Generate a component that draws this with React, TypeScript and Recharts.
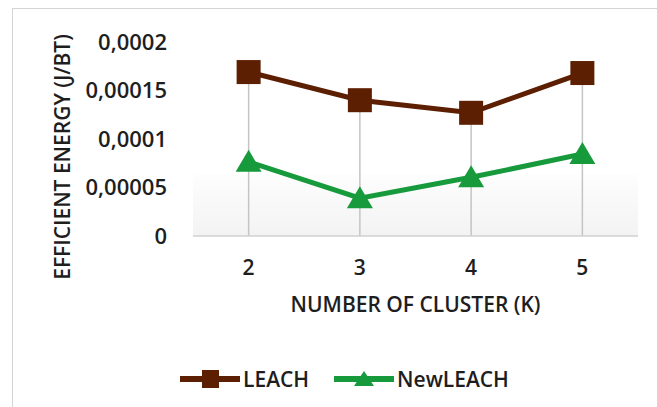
import {
  LineChart,
  Line,
  XAxis,
  YAxis,
  ReferenceLine,
  ReferenceArea,
} from "recharts";

const clusters = [2, 3, 4, 5];
const leach = [0.000169, 0.00014, 0.000127, 0.000168];
const newLeach = [0.0000765, 0.000039, 0.0000605, 0.0000845];
const yTicks = [0, 0.00005, 0.0001, 0.00015, 0.0002];

const BROWN = "#5c1f02";
const GREEN = "#169a3c";
const TEXT = "#1e1e1e";
const FONT = "'Open Sans', sans-serif";

const data = clusters.map((k, i) => ({ k, leach: leach[i], newLeach: newLeach[i] }));

function SquareDot(props: any) {
  const { cx, cy } = props;
  if (cx == null || cy == null) return null;
  return <rect x={cx - 12} y={cy - 12} width={24} height={24} fill={BROWN} />;
}

function TriangleDot(props: any) {
  const { cx, cy } = props;
  if (cx == null || cy == null) return null;
  return (
    <path
      d={`M${cx},${cy - 12} L${cx + 13},${cy + 10} L${cx - 13},${cy + 10} Z`}
      fill={GREEN}
    />
  );
}

const fmt = (v: number) => (v === 0 ? "0" : String(v).replace(".", ","));

function LegendItem({ kind, label }: { kind: "square" | "triangle"; label: string }) {
  const color = kind === "square" ? BROWN : GREEN;
  return (
    <span style={{ display: "flex", alignItems: "center" }}>
      <svg width={62} height={22}>
        <line x1={0} y1={11} x2={60} y2={11} stroke={color} strokeWidth={6} />
        {kind === "square" ? (
          <rect x={22} y={2} width={17} height={18} fill={color} />
        ) : (
          <path d="M30,3 L40,18 L20,18 Z" fill={color} />
        )}
      </svg>
      <span style={{ marginLeft: 1 }}>{label}</span>
    </span>
  );
}

export default function App() {
  return (
    <div
      style={{
        position: "fixed",
        left: 0,
        top: 0,
        width: 657,
        height: 407,
        background: "#fff",
        overflow: "hidden",
        fontFamily: FONT,
      }}
    >
      <div
        style={{
          position: "absolute",
          left: 12,
          top: 8,
          width: 660,
          height: 420,
          border: "1.5px solid #d4d4d4",
        }}
      />
      <LineChart
        width={657}
        height={407}
        data={data}
        margin={{ top: 42, right: 19, bottom: 91, left: 43 }}
        style={{ position: "absolute", left: 0, top: 0 }}
      >
        <defs>
          <linearGradient id="plotShade" x1="0" y1="0" x2="0" y2="1">
            <stop offset="0%" stopColor="#fdfdfd" />
            <stop offset="100%" stopColor="#f3f3f3" />
          </linearGradient>
        </defs>
        <ReferenceArea
          x1={1.5}
          x2={5.5}
          y1={0}
          y2={0.000063}
          fill="url(#plotShade)"
          fillOpacity={1}
          stroke="none"
        />
        {clusters.map((k, i) => (
          <ReferenceLine
            key={k}
            segment={[
              { x: k, y: 0 },
              { x: k, y: Math.max(leach[i], newLeach[i]) },
            ]}
            stroke="#c4c4c4"
            strokeWidth={1.5}
          />
        ))}
        <XAxis
          dataKey="k"
          type="number"
          domain={[1.5, 5.5]}
          ticks={clusters}
          height={80}
          tickLine={false}
          axisLine={{ stroke: "#d0d0d0", strokeWidth: 1.5 }}
          tickMargin={18}
          tick={{ fill: TEXT, fontSize: 21, fontWeight: 600, fontFamily: FONT }}
          label={{
            content: (p: any) => {
              const vb = p.viewBox;
              return (
                <text
                  x={vb.x + vb.width / 2}
                  y={304}
                  textAnchor="middle"
                  dominantBaseline="central"
                  fill={TEXT}
                  fontSize={21}
                  fontWeight={600}
                  fontFamily={FONT}
                >
                  NUMBER OF CLUSTER (K)
                </text>
              );
            },
          }}
        />
        <YAxis
          domain={[0, 0.0002]}
          ticks={yTicks}
          width={150}
          tickLine={false}
          axisLine={false}
          tickMargin={20}
          tickFormatter={fmt}
          tick={{ fill: TEXT, fontSize: 22, fontWeight: 600, fontFamily: FONT }}
          label={{
            content: () => (
              <text
                x={62}
                y={157}
                transform="rotate(-90, 62, 157)"
                textAnchor="middle"
                dominantBaseline="central"
                fill={TEXT}
                fontSize={21}
                fontWeight={600}
                fontFamily={FONT}
              >
                EFFICIENT ENERGY (J/BT)
              </text>
            ),
          }}
        />
        <Line
          dataKey="leach"
          stroke={BROWN}
          strokeWidth={5}
          dot={<SquareDot />}
          activeDot={false}
          isAnimationActive={false}
        />
        <Line
          dataKey="newLeach"
          stroke={GREEN}
          strokeWidth={5}
          dot={<TriangleDot />}
          activeDot={false}
          isAnimationActive={false}
        />
      </LineChart>
      <div
        style={{
          position: "absolute",
          left: 180,
          top: 366,
          display: "flex",
          gap: 25,
          fontSize: 21,
          fontWeight: 600,
          color: TEXT,
          lineHeight: "26px",
        }}
      >
        <LegendItem kind="square" label="LEACH" />
        <LegendItem kind="triangle" label="NewLEACH" />
      </div>
    </div>
  );
}
